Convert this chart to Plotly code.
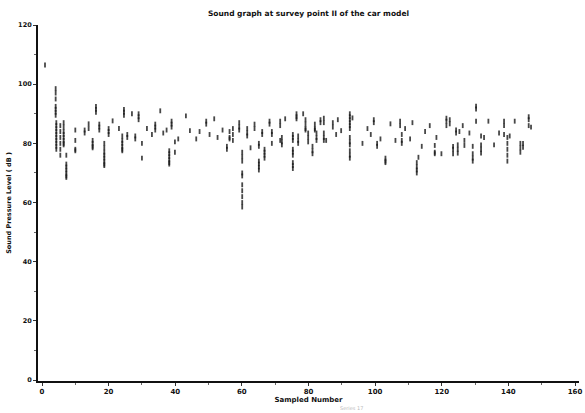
import plotly.graph_objects as go

# Stroke positions (x) and the sound pressure readings (dB) recorded at each
stroke_x = [0.9, 4.1, 4.3, 5.5, 6.5, 7.3, 10.0, 12.8, 14.0, 15.2, 16.2, 17.2, 18.7, 20.0,
            21.2, 23.1, 24.1, 24.6, 25.6, 27.0, 28.0, 29.0, 30.0, 31.5, 33.0, 34.0, 35.5,
            36.4, 37.4, 38.2, 38.9, 39.9, 40.9, 43.2, 44.4, 46.3, 47.3, 49.3, 50.3, 51.7,
            52.7, 54.2, 55.5, 56.3, 57.3, 59.2, 60.1, 61.6, 62.6, 63.8, 65.1, 66.1, 66.8,
            68.3, 69.0, 71.5, 72.0, 73.0, 75.3, 76.4, 76.9, 78.4, 79.1, 79.9, 81.2, 81.9,
            82.4, 83.6, 84.6, 85.3, 87.3, 88.3, 88.8, 89.8, 92.4, 93.2, 96.2, 97.7, 98.7,
            99.6, 100.6, 101.6, 103.1, 104.6, 106.1, 107.5, 108.0, 109.0, 110.5, 111.2,
            112.5, 113.0, 114.0, 115.0, 116.4, 117.9, 118.4, 119.9, 121.4, 122.4, 123.4,
            124.3, 124.8, 125.3, 126.3, 126.8, 128.3, 129.3, 130.3, 131.8, 132.7, 134.0,
            135.7, 137.2, 138.7, 139.7, 140.4, 141.9, 143.6, 144.4, 146.1, 146.8]

spl_readings = [
    [106.5],
    [98.5, 97, 95, 92.5, 91.5, 90.5, 89.5],
    [87, 86, 85, 84, 83, 82, 81, 80, 79, 78],
    [86, 84, 82, 80, 78, 76],
    [87, 85.5, 84, 83, 82, 81, 80, 79.5],
    [76, 73, 72, 71, 70, 69, 68.5],
    [84.5, 81, 78, 77.5],
    [84.5, 83.5],
    [86.6, 85],
    [81, 80, 79, 78.5],
    [92.5, 91.5, 90.5],
    [86.5, 85.5, 84.5],
    [80, 78.5, 77, 76, 75, 74, 73, 72.5],
    [85, 84, 83],
    [87.6],
    [85],
    [82.5, 81, 80, 79, 78, 77.5],
    [91.5, 90.5, 89.5],
    [83, 82],
    [90],
    [82.5, 81.5],
    [90, 89, 88],
    [80, 75],
    [85],
    [83],
    [86.5, 85.5, 84.5],
    [91],
    [83.5],
    [84.5],
    [77.5, 76.5, 75.5, 74.5, 73.5, 73],
    [87.5, 86.5, 85.5],
    [80.5, 77],
    [81.5],
    [89.3],
    [84.3],
    [81.5],
    [84],
    [87.5, 86.5],
    [83],
    [88.3],
    [82],
    [84.5],
    [79, 78],
    [84, 82, 81.5],
    [85, 83, 81],
    [87, 85.5, 84.5],
    [77, 75.5, 74, 70, 69, 66, 64, 62, 60, 58.5],
    [85, 83.5, 82.5],
    [78.5],
    [86.5, 85],
    [80, 79, 74, 73, 72, 71],
    [84, 83],
    [78, 77, 76, 75],
    [87.5, 86.5],
    [84, 83, 80],
    [87.5, 86, 81],
    [82, 80.5, 79.5],
    [88.3],
    [83, 82, 81, 78, 77, 76, 73.5, 72.5, 71.5],
    [90, 89, 88.3],
    [82.5, 81, 80],
    [90],
    [88, 86.5, 85, 84.5],
    [83.5, 82, 80.5],
    [79, 77.5, 76.5],
    [86.5, 85, 84.5],
    [83.5, 82, 81],
    [88, 87],
    [88.5, 87, 83.5, 82, 81],
    [81],
    [87, 85.5],
    [83],
    [88],
    [84.3],
    [90, 89, 88, 87, 86, 85, 82, 80.5, 79.5, 77.5, 76, 75],
    [88.6],
    [80],
    [85],
    [83],
    [88, 87],
    [80, 79],
    [81.5],
    [75, 74, 73.5],
    [86.6],
    [81],
    [87.5, 86],
    [83, 81, 80],
    [85],
    [81.5],
    [87],
    [73.5, 72, 71, 70],
    [75.3],
    [79],
    [84],
    [86],
    [79.3, 77, 76.5],
    [82],
    [76.5],
    [88.5, 87.5, 86],
    [88, 86.6],
    [79, 78, 76.5],
    [84.5, 83.5],
    [79.5, 78, 76.7],
    [84],
    [86],
    [81, 79.3],
    [83.5],
    [79, 76.5, 75, 74],
    [92.6, 91.6, 87.5],
    [82.5, 79.5, 78, 76.7],
    [82],
    [87.5],
    [79.5],
    [83.5],
    [87.5, 86, 83],
    [82, 80, 78, 76, 74],
    [82.5],
    [87.5],
    [80, 78.5, 77],
    [80, 78.7],
    [89, 88, 86],
    [85.5],
]

x_ticks = [0, 20, 40, 60, 80, 100, 120, 140, 160]
y_ticks = [0, 20, 40, 60, 80, 100, 120]

xs, ys = [], []
for sx, readings in zip(stroke_x, spl_readings):
    for r in readings:
        xs.append(sx)
        ys.append(r)

fig = go.Figure()
fig.add_trace(go.Scatter(
    x=xs, y=ys, mode="markers",
    marker=dict(symbol="line-ns", size=3.5, color="#1a1a1a",
                line=dict(width=1.8, color="#1a1a1a"), opacity=0.8),
    hoverinfo="skip", showlegend=False,
))

font_fam = "DejaVu Sans"
fig.update_layout(
    width=585, height=413,
    margin=dict(l=38, r=3, t=25, b=32),
    paper_bgcolor="white", plot_bgcolor="white",
    font=dict(family=font_fam, size=7, color="#111"),
    title=dict(text="<b>Sound graph at survey point II of the car model</b>",
               x=0.5, xref="paper", y=0.967, yref="container",
               xanchor="center", yanchor="middle",
               font=dict(size=7.5, family=font_fam, color="#111")),
    showlegend=False,
)
fig.update_xaxes(
    range=[-1.2, 161.2], tickmode="array", tickvals=x_ticks,
    ticktext=[str(v) for v in x_ticks], ticklabeloverflow="allow",
    showgrid=False, zeroline=False, showline=True, linecolor="#111", linewidth=2,
    ticks="outside", ticklen=3, tickwidth=1, tickcolor="#333",
    minor=dict(ticks="outside", ticklen=2, dtick=10, tickcolor="#666"),
    tickfont=dict(size=7, weight="bold"),
    title=dict(text="<b>Sampled Number</b>", font=dict(size=7), standoff=2),
)
fig.update_yaxes(
    range=[-0.3, 120], tickmode="array", tickvals=y_ticks,
    ticktext=[str(v) for v in y_ticks],
    showgrid=False, zeroline=False, showline=True, linecolor="#111", linewidth=2,
    ticks="outside", ticklen=3, tickwidth=1, tickcolor="#333",
    minor=dict(ticks="outside", ticklen=2, dtick=10, tickcolor="#666"),
    tickfont=dict(size=6.5, weight="bold"),
    title=dict(text="<b>Sound Pressure Level ( dB )</b>", font=dict(size=6.5), standoff=6),
)
fig.add_annotation(text="Series 17", xref="paper", yref="paper", x=0.58, y=-0.076,
                   yanchor="middle", showarrow=False,
                   font=dict(size=5, color="#bbbbbb"))

fig.write_html("out.html")
